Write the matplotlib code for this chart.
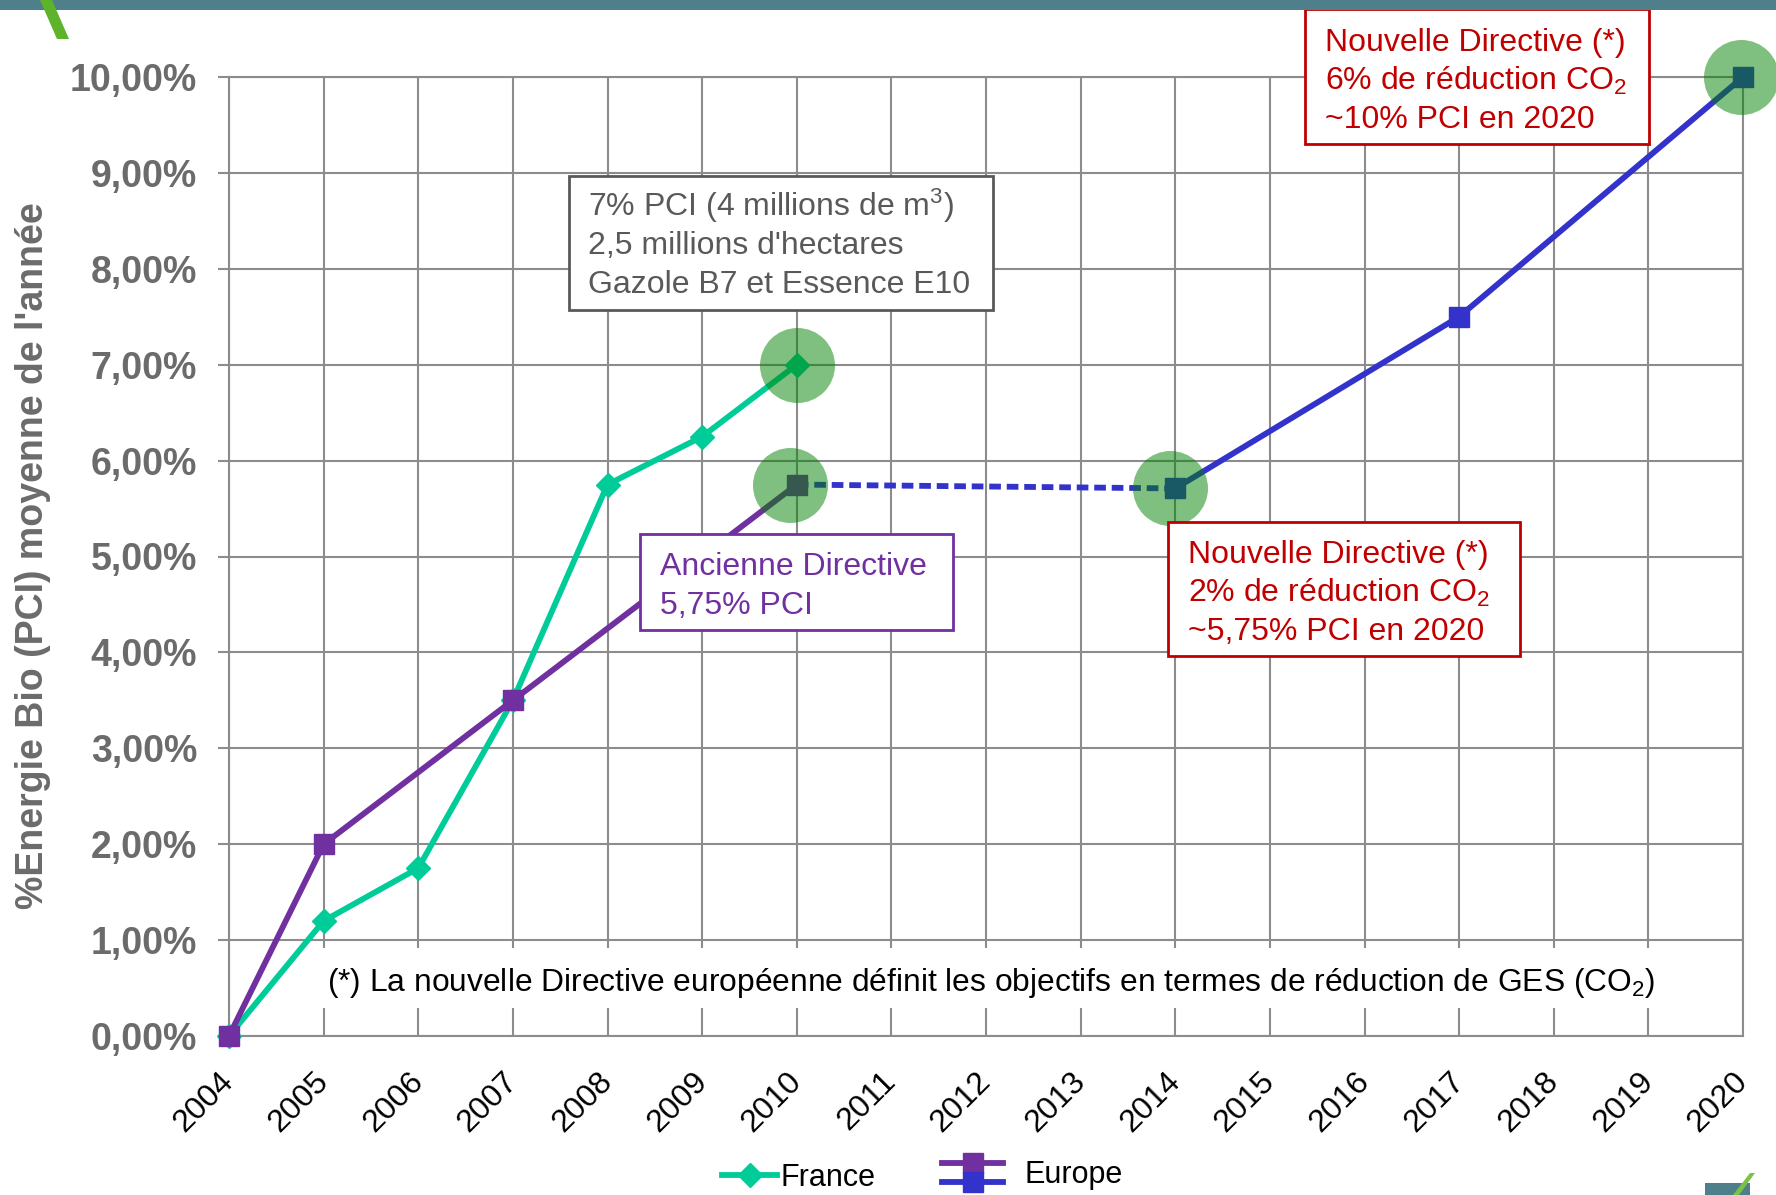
import matplotlib
matplotlib.use("Agg")
import matplotlib.pyplot as plt
from matplotlib.patches import Rectangle, Polygon
from matplotlib.lines import Line2D
from matplotlib.legend_handler import HandlerBase
import matplotlib.transforms as mtransforms

plt.rcParams['font.family'] = ['Liberation Sans', 'DejaVu Sans']
plt.rcParams['mathtext.fontset'] = 'custom'
plt.rcParams['mathtext.rm'] = 'Liberation Sans'
plt.rcParams['mathtext.default'] = 'regular'

# data
years = list(range(2004, 2021))
france_years = [2004, 2005, 2006, 2007, 2008, 2009, 2010]
france_vals = [0.0, 1.2, 1.75, 3.5, 5.75, 6.25, 7.0]
europe_old_years = [2004, 2005, 2007, 2010]
europe_old_vals = [0.0, 2.0, 3.5, 5.75]
europe_gap_years = [2010, 2014]
europe_gap_vals = [5.75, 5.71]
europe_new_years = [2014, 2017, 2020]
europe_new_vals = [5.71, 7.5, 10.0]
circle_x = [2009.93, 2010.0, 2013.94, 2019.98]
circle_y = [5.75, 7.0, 5.71, 10.0]
y_ticks = list(range(0, 11))

box_gray = ["7% PCI (4 millions de m$^3$)", "2,5 millions d'hectares", "Gazole B7 et Essence E10"]
box_purple = ["Ancienne Directive", "5,75% PCI"]
box_red_low = ["Nouvelle Directive (*)", "2% de réduction CO$_2$", "~5,75% PCI en 2020"]
box_red_top = ["Nouvelle Directive (*)", "6% de réduction CO$_2$", "~10% PCI en 2020"]
footnote = "(*) La nouvelle Directive européenne définit les objectifs en termes de réduction de GES (CO$_2$)"

GREEN_LINE = '#00CC99'
PURPLE = '#7030A0'
BLUE = '#3333CC'
RED = '#C00000'
GRAY_TXT = '#595959'
GRID = '#8c8c8c'
LW = 4.2

fig = plt.figure(figsize=(17.76, 11.95), dpi=100)
ax = fig.add_axes([229/1776, 159/1195, (1743-229)/1776, (1036-77)/1195])
ax.set_xlim(2004, 2020)
ax.set_ylim(0, 10)

# grid
ax.set_xticks(years)
ax.set_yticks(y_ticks)
ax.grid(True, color=GRID, lw=1.5)
ax.set_axisbelow(True)
for s in ax.spines.values():
    s.set_color(GRID)
    s.set_linewidth(1.5)

ax.set_yticklabels([f"{v:.2f}".replace('.', ',') + '%' for v in y_ticks],
                   fontsize=27, fontweight='bold', color='#6b6b6b')
ax.tick_params(axis='y', length=8, width=1.5, color=GRID, pad=15)
ax.set_xticklabels([str(y) for y in years], fontsize=23, rotation=45,
                   ha='right', va='top', rotation_mode='default')
ax.tick_params(axis='x', length=0, pad=22)
offset = mtransforms.ScaledTranslation(11/100, 0, fig.dpi_scale_trans)
for lab in ax.get_xticklabels():
    lab.set_transform(lab.get_transform() + offset)

# white band behind footnote
ax.add_patch(Rectangle((2004.04, 0.29), 15.92, 0.63, fc='white', ec='none', zorder=1))
ax.text(2005.04, 0.47, footnote, fontsize=22.9, color='black', va='baseline', zorder=6)

# series
fr_line, = ax.plot(france_years, france_vals, color=GREEN_LINE, lw=LW, marker='D',
                   ms=12, zorder=3, clip_on=False)
eu_old, = ax.plot(europe_old_years, europe_old_vals, color=PURPLE, lw=LW, marker='s',
                  ms=14, zorder=3, clip_on=False)
ax.plot(europe_gap_years, europe_gap_vals, color=BLUE, lw=LW, ls=(0, (2.0, 1.0)), zorder=2.9)
eu_new, = ax.plot(europe_new_years, europe_new_vals, color=BLUE, lw=LW, marker='s',
                  ms=14, zorder=3, clip_on=False)

# highlight circles
ax.scatter(circle_x, circle_y, s=2916, color='green', alpha=0.5, linewidths=0,
           zorder=4, clip_on=False)

# annotation boxes
def note_box(x0, y0, x1, y1, edge, lw):
    ax.add_patch(Rectangle((x0, y0), x1 - x0, y1 - y0, fc='white', ec=edge, lw=lw,
                           zorder=5, clip_on=False))

def note_text(x, y, lines, color, step=0.40):
    for i, line in enumerate(lines):
        ax.text(x, y - i * step, line, fontsize=23, color=color, va='baseline',
                zorder=6, clip_on=False)

note_box(2007.59, 7.57, 2012.07, 8.97, GRAY_TXT, 2)
note_text(2007.79, 8.55, box_gray, GRAY_TXT)
note_box(2008.34, 4.23, 2011.65, 5.23, PURPLE, 2)
note_text(2008.56, 4.81, box_purple, PURPLE, step=0.41)
note_box(2013.92, 3.96, 2017.64, 5.36, RED, 2)
note_text(2014.14, 4.93, box_red_low, RED)
note_box(2015.37, 9.30, 2019.01, 10.71, RED, 2)
note_text(2015.58, 10.27, box_red_top, RED)

# y label
fig.text(33/1776, 1 - 556/1195, "%Energie Bio (PCI) moyenne de l'année", rotation=90,
         ha='center', va='center', fontsize=27, fontweight='bold', color='#6b6b6b')

# legend
class StackedHandler(HandlerBase):
    def create_artists(self, legend, orig_handle, xdescent, ydescent, width, height,
                       fontsize, trans):
        arts = []
        for h, off in zip(orig_handle, [0.45, -0.45]):
            y = height / 2 - ydescent + off * height
            ln = Line2D([-xdescent, width - xdescent], [y, y], color=h.get_color(),
                        lw=h.get_linewidth(), transform=trans)
            mk = Line2D([width / 2 - xdescent], [y], marker='s', ms=15, ls='none',
                        color=h.get_color(), transform=trans)
            arts += [ln, mk]
        return arts

fig.legend(handles=[fr_line], labels=['France'], loc='center left',
           bbox_to_anchor=(722/1776, 17/1195), frameon=False, fontsize=22,
           handlelength=1.8, handletextpad=0.1, borderpad=0, borderaxespad=0)
fig.legend(handles=[(eu_old, eu_new)], labels=['Europe'], loc='center left',
           bbox_to_anchor=(942/1776, 20/1195), frameon=False, fontsize=22,
           handlelength=2.0, handletextpad=0.7, borderpad=0, borderaxespad=0,
           handler_map={tuple: StackedHandler()})

# page decorations
fig.patches.append(Rectangle((0, 1 - 10/1195), 1, 10/1195, transform=fig.transFigure,
                             fc='#4F7F8A', ec='none'))
fig.patches.append(Polygon([(40/1776, 1), (52/1776, 1), (69/1776, 1 - 39/1195),
                            (57/1776, 1 - 39/1195)], closed=True,
                           transform=fig.transFigure, fc='#5DB32A', ec='none'))
fig.patches.append(Rectangle((1705/1776, 0), 45/1776, 12/1195, transform=fig.transFigure,
                             fc='#4F7F8A', ec='none'))
fig.patches.append(Polygon([(1733/1776, 0), (1739/1776, 0), (1755/1776, 22/1195),
                            (1750/1776, 22/1195)], closed=True,
                           transform=fig.transFigure, fc='#7DC242', ec='none'))

fig.savefig("out.png", dpi=100)
